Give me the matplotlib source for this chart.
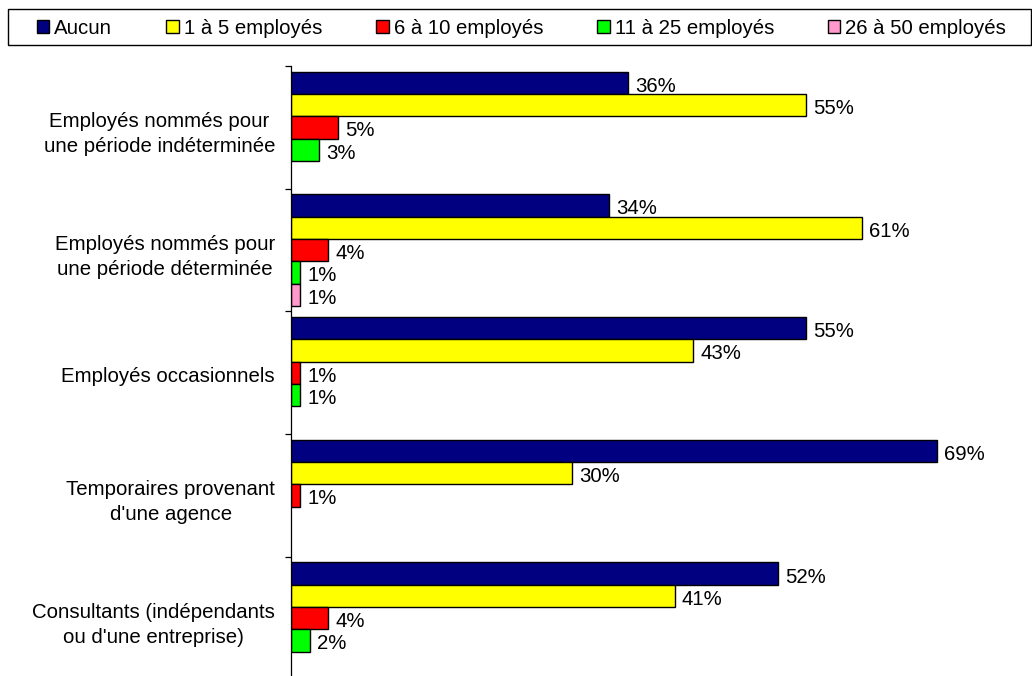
import numpy as np
import matplotlib
matplotlib.use("Agg")
import matplotlib.pyplot as plt
from matplotlib.patches import Patch, Rectangle

plt.rcParams["font.family"] = ["Liberation Sans", "DejaVu Sans"]

categories = [
    "Employés nommés pour\nune période indéterminée",
    "Employés nommés pour\nune période déterminée",
    "Employés occasionnels",
    "Temporaires provenant\nd'une agence",
    "Consultants (indépendants\nou d'une entreprise)",
]
series_names = ["Aucun", "1 à 5 employés", "6 à 10 employés", "11 à 25 employés", "26 à 50 employés"]
aucun = [36, 34, 55, 69, 52]
un_a_cinq = [55, 61, 43, 30, 41]
six_a_dix = [5, 4, 1, 1, 4]
onze_a_25 = [3, 1, 1, np.nan, 2]
vingt6_a_50 = [np.nan, 1, np.nan, np.nan, np.nan]
series = [aucun, un_a_cinq, six_a_dix, onze_a_25, vingt6_a_50]
colors = ["#000080", "#FFFF00", "#FF0000", "#00FF00", "#FF99CC"]

FS = 14.7
W, H = 1032, 676
fig = plt.figure(figsize=(W / 100, H / 100), dpi=100)

# axes placed in pixel terms: left spine at x=291, groups 122.7 px tall
top_px, group_px = 66, 122.7
bottom_px = top_px + group_px * len(categories)
ax = fig.add_axes([291 / W, (H - bottom_px) / H, (W - 291) / W, (bottom_px - top_px) / H])

bar_h = 0.1818
margin = 0.0455
for j, (vals, col) in enumerate(zip(series, colors)):
    vals = np.array(vals, dtype=float)
    ypos = np.arange(len(categories)) + margin + (j + 0.5) * bar_h
    keep = ~np.isnan(vals)
    ax.barh(ypos[keep], vals[keep], height=bar_h, color=col,
            edgecolor="black", linewidth=1.0)
    for y, v in zip(ypos[keep], vals[keep]):
        ax.annotate(f"{v:.0f}%", xy=(v, y), xytext=(7, -9), textcoords="offset pixels",
                    ha="left", va="baseline", fontsize=FS, color="black")

ax.set_xlim(0, (W - 291) / 9.36)
ax.set_ylim(len(categories), 0)

ax.set_yticks(np.arange(len(categories) + 1))
ax.set_yticklabels([])
# category names sit slightly below the middle of each group
ax.set_yticks(np.arange(len(categories)) + 0.516, minor=True)
ax.set_yticklabels(categories, minor=True, fontsize=FS, multialignment="center",
                   linespacing=1.4)
ax.tick_params(axis="y", which="major", length=6 * 0.72, width=0.9, direction="out")
ax.tick_params(axis="y", which="minor", length=0, pad=11.5)
ax.xaxis.set_visible(False)
for s in ["top", "right", "bottom"]:
    ax.spines[s].set_visible(False)
ax.spines["left"].set_linewidth(0.9)

# legend box across the top
fig.patches.append(Rectangle((8 / W, (H - 45) / H), (1031 - 8) / W, 35.5 / H,
                             transform=fig.transFigure, fill=False,
                             edgecolor="black", linewidth=1.0))
handles = [Patch(facecolor=c, edgecolor="black", linewidth=1.0) for c in colors]
fig.legend(handles, series_names, loc="center left", bbox_to_anchor=(37 / W, (H - 28) / H),
           ncol=5, frameon=False, fontsize=FS, handlelength=0.6, handleheight=0.6,
           handletextpad=0.25, columnspacing=2.65, borderpad=0, borderaxespad=0)

fig.savefig("out.png", dpi=100)
